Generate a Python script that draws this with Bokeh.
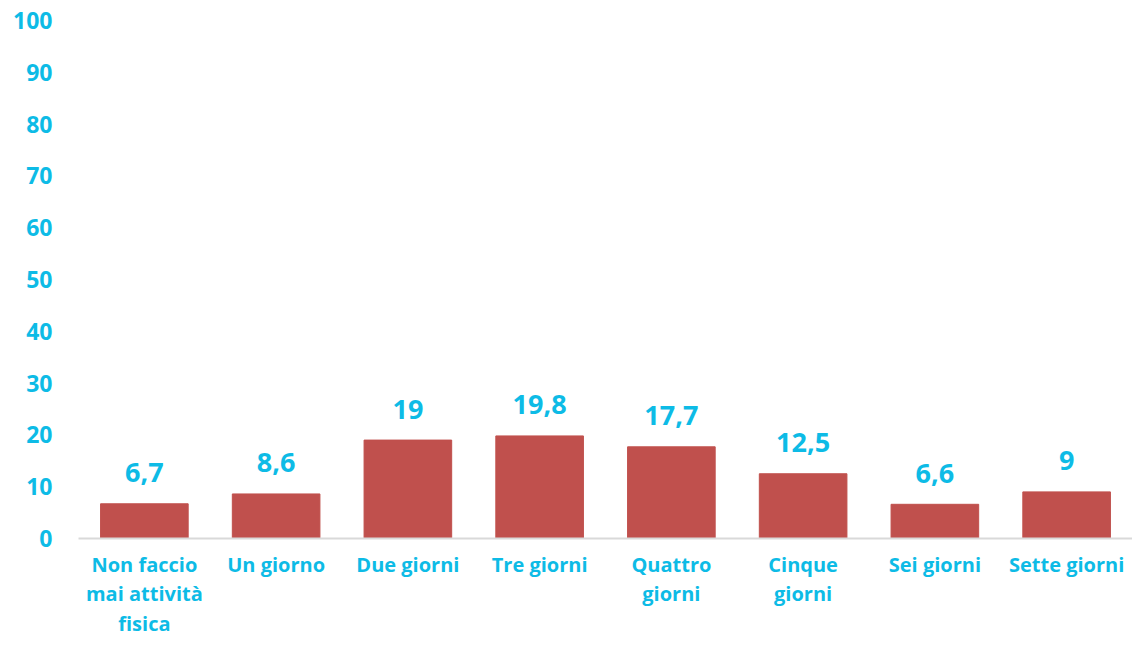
from bokeh.plotting import figure
from bokeh.models import Range1d, ColumnDataSource, FixedTicker
from bokeh.core.properties import value
from bokeh.embed import file_html
from bokeh.resources import INLINE

categories = ["Non faccio\nmai attività\nfisica", "Un giorno", "Due giorni", "Tre giorni",
              "Quattro\ngiorni", "Cinque\ngiorni", "Sei giorni", "Sette giorni"]
values = [6.7, 8.6, 19, 19.8, 17.7, 12.5, 6.6, 9]
y_ticks = [0, 10, 20, 30, 40, 50, 60, 70, 80, 90, 100]

CYAN = "#0DBBE6"
BAR = "#C0504D"
FONT = "Open Sans"

labels = [("%g" % v).replace(".", ",") for v in values]
src = ColumnDataSource(dict(cat=categories, val=values, lab=labels))

p = figure(x_range=categories, y_range=Range1d(0, 100), width=1132, height=639,
           output_backend="svg", toolbar_location=None,
           min_border_left=78, min_border_right=0, min_border_top=20, min_border_bottom=0)
p.outline_line_color = None
p.xgrid.grid_line_color = None
p.ygrid.grid_line_color = None
p.background_fill_color = None

p.vbar(x="cat", top="val", width=0.665, source=src, fill_color=BAR, line_color=BAR)
p.text(x="cat", y="val", text="lab", source=src, text_align="center",
       text_baseline="alphabetic", y_offset=-31, text_color=CYAN,
       text_font=value(FONT), text_font_style="bold", text_font_size="27px")

p.yaxis.ticker = FixedTicker(ticks=y_ticks)
p.yaxis.axis_line_color = None
p.yaxis.major_tick_line_color = None
p.yaxis.minor_tick_line_color = None
p.yaxis.major_label_standoff = 20
p.yaxis.major_label_text_color = CYAN
p.yaxis.major_label_text_font = FONT
p.yaxis.major_label_text_font_style = "bold"
p.yaxis.major_label_text_font_size = "23px"

p.xaxis.axis_line_color = "#D9D9D9"
p.xaxis.axis_line_width = 2
p.xaxis.major_tick_line_color = None
p.xaxis.minor_tick_line_color = None
p.xaxis.major_tick_out = 0
p.xaxis.major_label_standoff = 12
p.xaxis.major_label_text_color = CYAN
p.xaxis.major_label_text_font = FONT
p.xaxis.major_label_text_font_style = "bold"
p.xaxis.major_label_text_font_size = "20px"
p.xaxis.major_label_text_line_height = 1.1

open("out.html", "w").write(file_html(p, INLINE))
